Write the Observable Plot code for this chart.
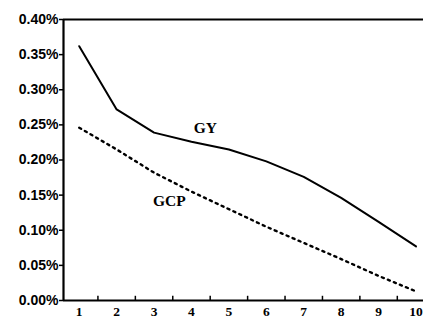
<!DOCTYPE html>
<html>
<head>
<meta charset="utf-8">
<script src="https://cdn.jsdelivr.net/npm/d3@7"></script>
<script src="https://cdn.jsdelivr.net/npm/@observablehq/plot@0.6"></script>
<style>
  html, body { margin: 0; padding: 0; background: #fff; }
  #chart svg { display: block; }
</style>
</head>
<body>
<div id="chart"></div>
<script>
const periods = [1, 2, 3, 4, 5, 6, 7, 8, 9, 10];
const gy  = [0.362, 0.272, 0.239, 0.226, 0.215, 0.198, 0.176, 0.146, 0.112, 0.077];
const gcp = [0.246, 0.215, 0.182, 0.155, 0.130, 0.105, 0.082, 0.059, 0.035, 0.013];
const yTicks = [0, 0.05, 0.10, 0.15, 0.20, 0.25, 0.30, 0.35, 0.40];
const xMidTicks = [1.5, 2.5, 3.5, 4.5, 5.5, 6.5, 7.5, 8.5, 9.5];
const seriesLabels = [
  {name: "GY", x: 4.37, y: 0.245},
  {name: "GCP", x: 3.41, y: 0.1416}
];

const gyData = periods.map((p, i) => ({p, v: gy[i]}));
const gcpData = periods.map((p, i) => ({p, v: gcp[i]}));

const chart = Plot.plot({
  width: 423,
  height: 320,
  marginLeft: 63,
  marginRight: 0,
  marginTop: 19,
  marginBottom: 20,
  x: {domain: [0.58, 10.2], axis: null},
  y: {domain: [0, 0.40], axis: null},
  style: {background: "#fff", color: "#000"},
  marks: [
    Plot.axisY({
      ticks: yTicks,
      tickFormat: d => d.toFixed(2) + "%",
      tickSize: 4,
      tickPadding: 1,
      strokeWidth: 1.5,
      fontSize: 14,
      fontWeight: "bold",
      fontFamily: "Liberation Sans, Arial, sans-serif",
      letterSpacing: "-0.5px"
    }),
    Plot.axisX({
      ticks: periods,
      tickSize: 0,
      tickPadding: 6,
      fontSize: 13.5,
      fontWeight: "bold",
      fontFamily: "Liberation Serif, Times New Roman, serif"
    }),
    Plot.ruleX(xMidTicks, {y1: 0, y2: 0.006, stroke: "#000", strokeWidth: 1.5}),
    Plot.ruleY([0.40], {stroke: "#000", strokeWidth: 1.8}),
    Plot.ruleY([0], {stroke: "#000", strokeWidth: 2.2}),
    Plot.ruleX([0.58], {y1: 0, y2: 0.40, stroke: "#000", strokeWidth: 2.2}),
    Plot.line(gyData, {x: "p", y: "v", stroke: "#000", strokeWidth: 2}),
    Plot.line(gcpData, {x: "p", y: "v", stroke: "#000", strokeWidth: 2.4, strokeDasharray: "2.2,4.3"}),
    Plot.text(seriesLabels, {
      x: "x", y: "y", text: "name",
      fontSize: 15.5, fontWeight: "bold",
      fontFamily: "Liberation Serif, Times New Roman, serif",
      fill: "#000"
    })
  ]
});
document.getElementById("chart").appendChild(chart);
</script>
</body>
</html>
